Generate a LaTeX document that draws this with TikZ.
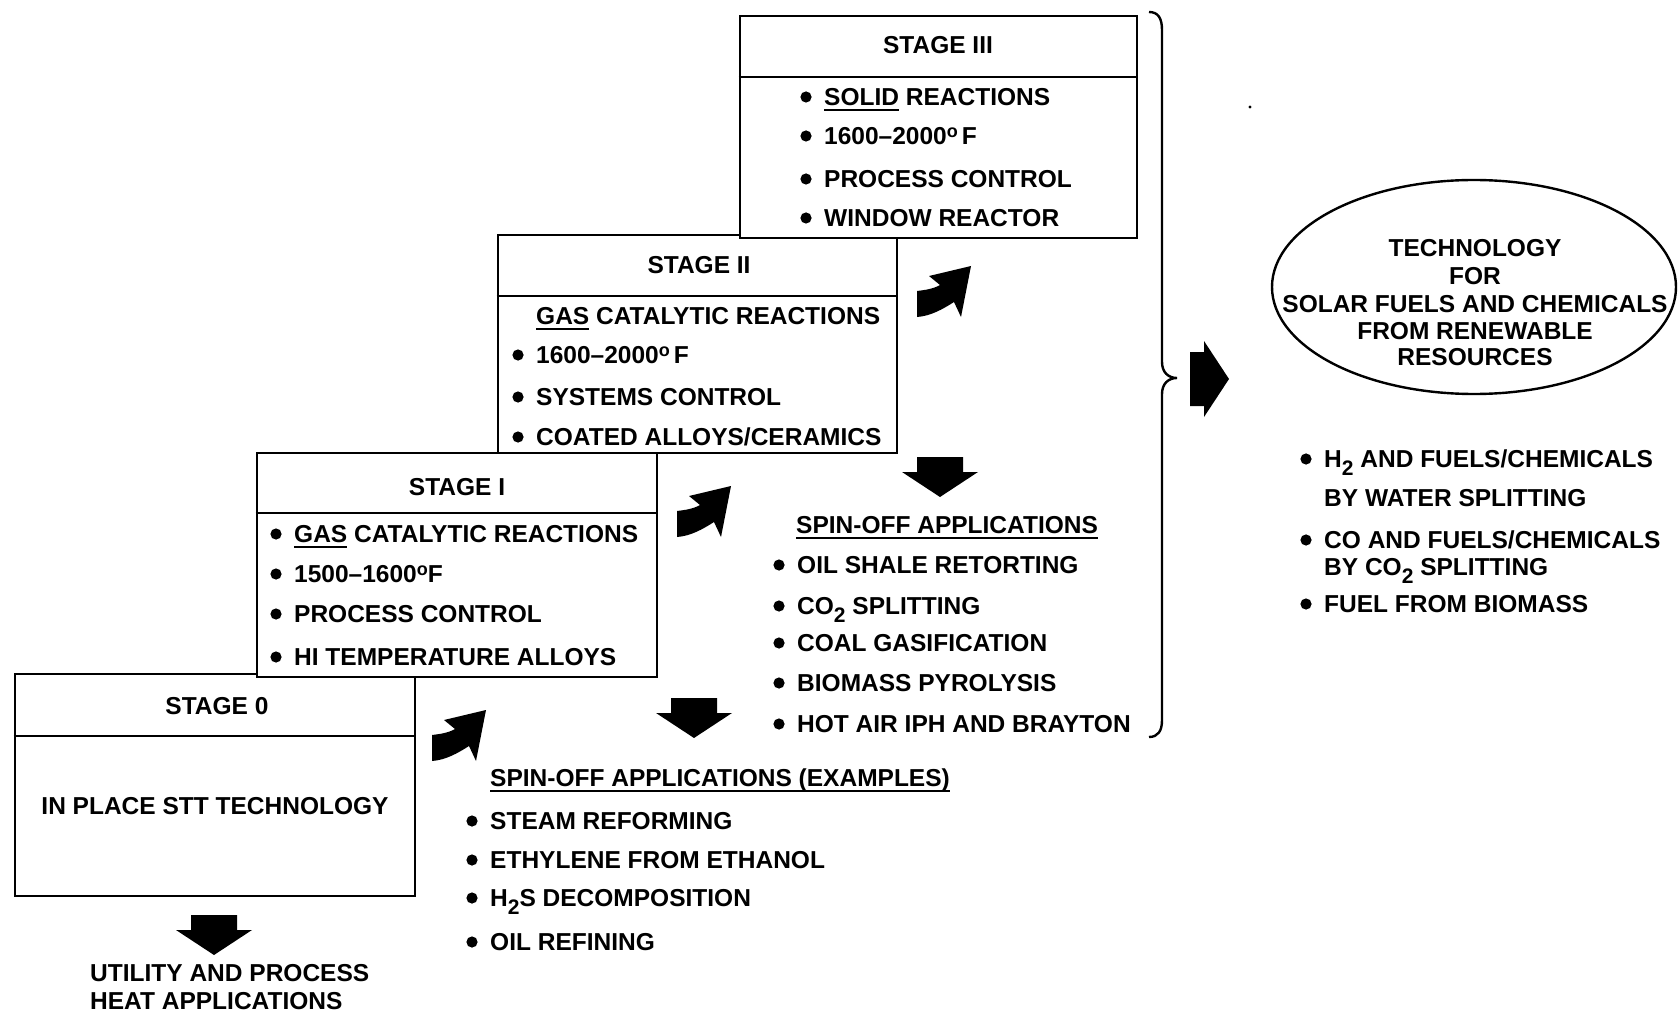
\documentclass[tikz,border=0pt]{standalone}
\usepackage{fontspec}
\setmainfont{Liberation Sans}
\usetikzlibrary{shapes.geometric}

% underline drawn as a rule of our own thickness
\newsavebox\ulbox
\newcommand\undl[1]{\sbox\ulbox{#1}\rlap{\rule[-5.5pt]{\wd\ulbox}{1.8pt}}\usebox\ulbox}
% lowered subscript digit and raised degree mark
\newcommand\subdn[1]{\raisebox{-8pt}{\fontsize{21pt}{21pt}\selectfont #1}}
\newcommand\degsym{\raisebox{7.5pt}{\fontsize{18pt}{18pt}\selectfont o}}
% bullet dot followed by its text
\newcommand\bitem[4]{\fill (#2,#3) circle (5.6pt); \node[lt] (#1) at (#2+18,#3) {#4};}

\begin{document}
\begin{tikzpicture}[x=1pt,y=-1pt,
  txt/.style={font=\fontsize{24.5pt}{28pt}\selectfont\bfseries, inner sep=0pt,
              text height=17.5pt, text depth=0pt},
  lt/.style={txt, anchor=west},
  stagebox/.style={draw, line width=2.6pt, fill=white, inner sep=0pt},
  rulel/.style={line width=2.6pt},
  curvarrow/.pic={
    \fill (0,0) -- (0,-26) .. controls (8,-27) and (16,-28) .. (23,-32)
      -- (12,-41) -- (54,-51) -- (44,0) -- (37,-15)
      .. controls (26,-8) and (14,-1) .. (0,0) -- cycle;},
  downarr/.pic={
    \fill (-23,0) -- (23,0) -- (23,15) -- (38,15) -- (0,40) -- (-38,15)
      -- (-23,15) -- cycle;}
]
\useasboundingbox (0,0) rectangle (1678,1016);
\fill[white] (0,0) rectangle (1678,1016);

% ---- stage boxes ----
\node[stagebox, minimum width=400pt, minimum height=222pt] (s0) at (215,785) {};
\node[stagebox, minimum width=400pt, minimum height=224pt] (s1) at (457,565) {};
\node[stagebox, minimum width=399pt, minimum height=218pt] (s2) at (697.5,344) {};
\node[stagebox, minimum width=397pt, minimum height=222pt] (s3) at (938.5,127) {};
\draw[rulel] (s0.west |- 0,736) -- (s0.east |- 0,736);
\draw[rulel] (s1.west |- 0,513) -- (s1.east |- 0,513);
\draw[rulel] (s2.west |- 0,296) -- (s2.east |- 0,296);
\draw[rulel] (s3.west |- 0,77) -- (s3.east |- 0,77);

% stage III
\node[txt] (s3h) at (938,45) {STAGE III};
\bitem{s3a}{806}{97}{\undl{SOLID} REACTIONS}
\bitem{s3b}{806}{136}{1600--2000\degsym\,F}
\bitem{s3c}{806}{179}{PROCESS CONTROL}
\bitem{s3d}{806}{218}{WINDOW REACTOR}

% stage II
\node[txt] (s2h) at (699,265) {STAGE II};
\node[lt] (s2a) at (536,316) {\undl{GAS} CATALYTIC REACTIONS};
\bitem{s2b}{518}{355}{1600--2000\degsym\,F}
\bitem{s2c}{518}{397}{SYSTEMS CONTROL}
\bitem{s2d}{518}{437}{COATED ALLOYS/CERAMICS}

% stage I
\node[txt] (s1h) at (457,487) {STAGE I};
\bitem{s1a}{276}{534}{\undl{GAS} CATALYTIC REACTIONS}
\bitem{s1b}{276}{574}{1500--1600\degsym F}
\bitem{s1c}{276}{614}{PROCESS CONTROL}
\bitem{s1d}{276}{657}{HI TEMPERATURE ALLOYS}

% stage 0
\node[txt] (s0h) at (217,706) {STAGE 0};
\node[txt] (s0b) at (215,806) {IN PLACE STT TECHNOLOGY};

% ---- step arrows between stages ----
\pic at (432,761) {curvarrow};
\pic at (677,537) {curvarrow};
\pic at (917,317) {curvarrow};

% ---- downward arrows ----
\pic at (214,915) {downarr};
\pic at (694,698) {downarr};
\pic at (940,457) {downarr};

% utility applications
\node[lt] (util1) at (90,973) {UTILITY AND PROCESS};
\node[lt] (util2) at (90,1001) {HEAT APPLICATIONS};

% lower spin-off list
\node[lt] (sp1t) at (490,778) {\undl{SPIN-OFF APPLICATIONS (EXAMPLES)}};
\bitem{sp1a}{472}{821}{STEAM REFORMING}
\bitem{sp1b}{472}{860}{ETHYLENE FROM ETHANOL}
\bitem{sp1c}{472}{898}{H\subdn{2}S DECOMPOSITION}
\bitem{sp1d}{472}{942}{OIL REFINING}

% upper spin-off list
\node[lt] (sp2t) at (796,525) {\undl{SPIN-OFF APPLICATIONS}};
\bitem{sp2a}{779}{565}{OIL SHALE RETORTING}
\bitem{sp2b}{779}{606}{CO\subdn{2} SPLITTING}
\bitem{sp2c}{779}{643}{COAL GASIFICATION}
\bitem{sp2d}{779}{683}{BIOMASS PYROLYSIS}
\bitem{sp2e}{779}{724}{HOT AIR IPH AND BRAYTON}

% ---- brace and arrow to the goal ----
\draw[line width=2.4pt] (1149,12) .. controls (1158,12) and (1162,18) .. (1162,30)
  -- (1162,362) .. controls (1162,372) and (1168,378) .. (1177,378)
  .. controls (1168,378) and (1162,384) .. (1162,394)
  -- (1162,720) .. controls (1162,731) and (1158,737) .. (1149,737);
\fill (1190,352) -- (1204,352) -- (1204,341) -- (1229,379) -- (1204,417)
  -- (1204,406) -- (1190,406) -- cycle;
\fill (1250,107) circle (1.6pt);

% goal ellipse
\node[draw, ellipse, line width=2.4pt, minimum width=404pt, minimum height=214pt,
      inner sep=0pt] (goal) at (1474,287) {};
\node[txt] (g1) at (1475,248) {TECHNOLOGY};
\node[txt] (g2) at (1475,276) {FOR};
\node[txt] (g3) at (1475,304) {SOLAR FUELS AND CHEMICALS};
\node[txt] (g4) at (1475,331) {FROM RENEWABLE};
\node[txt] (g5) at (1475,357) {RESOURCES};

% goal products
\bitem{p1}{1306}{459}{H\subdn{2} AND FUELS/CHEMICALS}
\node[lt] (p1b) at (1324,498) {BY WATER SPLITTING};
\bitem{p2}{1306}{540}{CO AND FUELS/CHEMICALS}
\node[lt] (p2b) at (1324,567) {BY CO\subdn{2} SPLITTING};
\bitem{p3}{1306}{604}{FUEL FROM BIOMASS}
\end{tikzpicture}
\end{document}
